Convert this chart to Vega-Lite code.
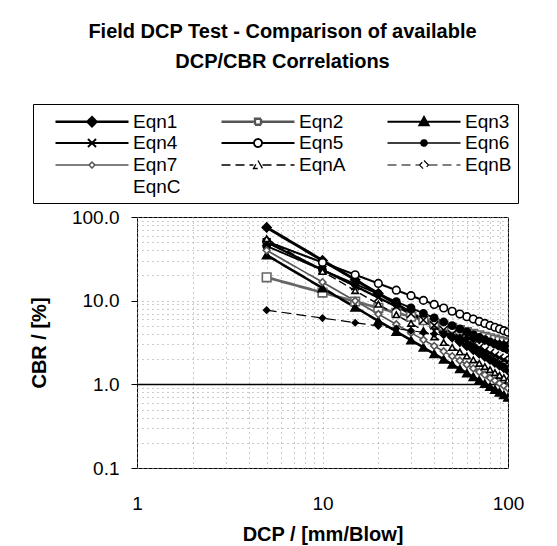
{
  "$schema": "https://vega.github.io/schema/vega-lite/v6.json",
  "width": 371,
  "height": 251,
  "autosize": {"type": "none"},
  "padding": {"left": 137, "top": 217, "right": 49, "bottom": 78},
  "background": "white",
  "config": {"font": "Liberation Sans", "view": {"stroke": "black", "strokeWidth": 1}},
  "title": {
    "text": ["Field DCP Test - Comparison of available", "DCP/CBR Correlations"],
    "fontSize": 20, "fontWeight": "bold", "font": "Liberation Sans", "color": "black",
    "anchor": "middle", "frame": "group", "dx": -40, "offset": 32, "lineHeight": 30
  },
  "datasets": {
    "pts": [
      {"s":"Eqn1","x":5,"y":75.0},{"s":"Eqn1","x":10,"y":30.25},{"s":"Eqn1","x":15,"y":17.78},{"s":"Eqn1","x":20,"y":12.2},{"s":"Eqn1","x":25,"y":9.1},{"s":"Eqn1","x":30,"y":7.17},{"s":"Eqn1","x":35,"y":5.86},{"s":"Eqn1","x":40,"y":4.92},{"s":"Eqn1","x":45,"y":4.22},{"s":"Eqn1","x":50,"y":3.67},{"s":"Eqn1","x":55,"y":3.24},{"s":"Eqn1","x":60,"y":2.89},{"s":"Eqn1","x":65,"y":2.6},{"s":"Eqn1","x":70,"y":2.36},{"s":"Eqn1","x":75,"y":2.16},{"s":"Eqn1","x":80,"y":1.98},{"s":"Eqn1","x":85,"y":1.83},{"s":"Eqn1","x":90,"y":1.7},{"s":"Eqn1","x":95,"y":1.58},{"s":"Eqn1","x":100,"y":1.48},
      {"s":"Eqn2","x":5,"y":19.0},{"s":"Eqn2","x":10,"y":12.49},{"s":"Eqn2","x":15,"y":9.77},{"s":"Eqn2","x":20,"y":8.21},{"s":"Eqn2","x":25,"y":7.17},{"s":"Eqn2","x":30,"y":6.43},{"s":"Eqn2","x":35,"y":5.85},{"s":"Eqn2","x":40,"y":5.4},{"s":"Eqn2","x":45,"y":5.03},{"s":"Eqn2","x":50,"y":4.72},{"s":"Eqn2","x":55,"y":4.45},{"s":"Eqn2","x":60,"y":4.22},{"s":"Eqn2","x":65,"y":4.02},{"s":"Eqn2","x":70,"y":3.85},{"s":"Eqn2","x":75,"y":3.69},{"s":"Eqn2","x":80,"y":3.55},{"s":"Eqn2","x":85,"y":3.42},{"s":"Eqn2","x":90,"y":3.3},{"s":"Eqn2","x":95,"y":3.2},{"s":"Eqn2","x":100,"y":3.1},
      {"s":"Eqn3","x":5,"y":35.0},{"s":"Eqn3","x":10,"y":14.16},{"s":"Eqn3","x":15,"y":8.34},{"s":"Eqn3","x":20,"y":5.73},{"s":"Eqn3","x":25,"y":4.28},{"s":"Eqn3","x":30,"y":3.37},{"s":"Eqn3","x":35,"y":2.76},{"s":"Eqn3","x":40,"y":2.32},{"s":"Eqn3","x":45,"y":1.99},{"s":"Eqn3","x":50,"y":1.73},{"s":"Eqn3","x":55,"y":1.53},{"s":"Eqn3","x":60,"y":1.36},{"s":"Eqn3","x":65,"y":1.23},{"s":"Eqn3","x":70,"y":1.12},{"s":"Eqn3","x":75,"y":1.02},{"s":"Eqn3","x":80,"y":0.937},{"s":"Eqn3","x":85,"y":0.866},{"s":"Eqn3","x":90,"y":0.803},{"s":"Eqn3","x":95,"y":0.748},{"s":"Eqn3","x":100,"y":0.7},
      {"s":"Eqn4","x":5,"y":50.0},{"s":"Eqn4","x":10,"y":23.32},{"s":"Eqn4","x":15,"y":14.93},{"s":"Eqn4","x":20,"y":10.87},{"s":"Eqn4","x":25,"y":8.51},{"s":"Eqn4","x":30,"y":6.96},{"s":"Eqn4","x":35,"y":5.87},{"s":"Eqn4","x":40,"y":5.07},{"s":"Eqn4","x":45,"y":4.46},{"s":"Eqn4","x":50,"y":3.97},{"s":"Eqn4","x":55,"y":3.57},{"s":"Eqn4","x":60,"y":3.25},{"s":"Eqn4","x":65,"y":2.97},{"s":"Eqn4","x":70,"y":2.74},{"s":"Eqn4","x":75,"y":2.54},{"s":"Eqn4","x":80,"y":2.37},{"s":"Eqn4","x":85,"y":2.21},{"s":"Eqn4","x":90,"y":2.08},{"s":"Eqn4","x":95,"y":1.96},{"s":"Eqn4","x":100,"y":1.85},
      {"s":"Eqn5","x":5,"y":51.0},{"s":"Eqn5","x":10,"y":28.62},{"s":"Eqn5","x":15,"y":20.42},{"s":"Eqn5","x":20,"y":16.06},{"s":"Eqn5","x":25,"y":13.34},{"s":"Eqn5","x":30,"y":11.46},{"s":"Eqn5","x":35,"y":10.08},{"s":"Eqn5","x":40,"y":9.02},{"s":"Eqn5","x":45,"y":8.17},{"s":"Eqn5","x":50,"y":7.48},{"s":"Eqn5","x":55,"y":6.91},{"s":"Eqn5","x":60,"y":6.43},{"s":"Eqn5","x":65,"y":6.02},{"s":"Eqn5","x":70,"y":5.65},{"s":"Eqn5","x":75,"y":5.34},{"s":"Eqn5","x":80,"y":5.06},{"s":"Eqn5","x":85,"y":4.81},{"s":"Eqn5","x":90,"y":4.59},{"s":"Eqn5","x":95,"y":4.38},{"s":"Eqn5","x":100,"y":4.2},
      {"s":"Eqn6","x":5,"y":45.0},{"s":"Eqn6","x":10,"y":23.26},{"s":"Eqn6","x":15,"y":15.82},{"s":"Eqn6","x":20,"y":12.03},{"s":"Eqn6","x":25,"y":9.73},{"s":"Eqn6","x":30,"y":8.18},{"s":"Eqn6","x":35,"y":7.06},{"s":"Eqn6","x":40,"y":6.22},{"s":"Eqn6","x":45,"y":5.56},{"s":"Eqn6","x":50,"y":5.03},{"s":"Eqn6","x":55,"y":4.59},{"s":"Eqn6","x":60,"y":4.23},{"s":"Eqn6","x":65,"y":3.92},{"s":"Eqn6","x":70,"y":3.65},{"s":"Eqn6","x":75,"y":3.42},{"s":"Eqn6","x":80,"y":3.22},{"s":"Eqn6","x":85,"y":3.03},{"s":"Eqn6","x":90,"y":2.87},{"s":"Eqn6","x":95,"y":2.73},{"s":"Eqn6","x":100,"y":2.6},
      {"s":"Eqn7","x":5,"y":40.0},{"s":"Eqn7","x":10,"y":16.63},{"s":"Eqn7","x":15,"y":9.95},{"s":"Eqn7","x":20,"y":6.91},{"s":"Eqn7","x":25,"y":5.21},{"s":"Eqn7","x":30,"y":4.14},{"s":"Eqn7","x":35,"y":3.4},{"s":"Eqn7","x":40,"y":2.87},{"s":"Eqn7","x":45,"y":2.48},{"s":"Eqn7","x":50,"y":2.17},{"s":"Eqn7","x":55,"y":1.92},{"s":"Eqn7","x":60,"y":1.72},{"s":"Eqn7","x":65,"y":1.55},{"s":"Eqn7","x":70,"y":1.41},{"s":"Eqn7","x":75,"y":1.3},{"s":"Eqn7","x":80,"y":1.19},{"s":"Eqn7","x":85,"y":1.11},{"s":"Eqn7","x":90,"y":1.03},{"s":"Eqn7","x":95,"y":0.961},{"s":"Eqn7","x":100,"y":0.9},
      {"s":"EqnA","x":5,"y":55.0},{"s":"EqnA","x":10,"y":22.34},{"s":"EqnA","x":15,"y":13.19},{"s":"EqnA","x":20,"y":9.07},{"s":"EqnA","x":25,"y":6.79},{"s":"EqnA","x":30,"y":5.36},{"s":"EqnA","x":35,"y":4.38},{"s":"EqnA","x":40,"y":3.69},{"s":"EqnA","x":45,"y":3.16},{"s":"EqnA","x":50,"y":2.76},{"s":"EqnA","x":55,"y":2.44},{"s":"EqnA","x":60,"y":2.18},{"s":"EqnA","x":65,"y":1.96},{"s":"EqnA","x":70,"y":1.78},{"s":"EqnA","x":75,"y":1.63},{"s":"EqnA","x":80,"y":1.5},{"s":"EqnA","x":85,"y":1.38},{"s":"EqnA","x":90,"y":1.28},{"s":"EqnA","x":95,"y":1.2},{"s":"EqnA","x":100,"y":1.12},
      {"s":"EqnB","x":5,"y":7.7},{"s":"EqnB","x":10,"y":6.19},{"s":"EqnB","x":15,"y":5.45},{"s":"EqnB","x":20,"y":4.98},{"s":"EqnB","x":25,"y":4.64},{"s":"EqnB","x":30,"y":4.38},{"s":"EqnB","x":35,"y":4.17},{"s":"EqnB","x":40,"y":4.0},{"s":"EqnB","x":45,"y":3.86},{"s":"EqnB","x":50,"y":3.73},{"s":"EqnB","x":55,"y":3.62},{"s":"EqnB","x":60,"y":3.52},{"s":"EqnB","x":65,"y":3.43},{"s":"EqnB","x":70,"y":3.36},{"s":"EqnB","x":75,"y":3.28},{"s":"EqnB","x":80,"y":3.22},{"s":"EqnB","x":85,"y":3.16},{"s":"EqnB","x":90,"y":3.1},{"s":"EqnB","x":95,"y":3.05},{"s":"EqnB","x":100,"y":3.0}
    ]
  },
  "data": {"name": "pts"},
  "resolve": {"scale": {"shape": "independent", "fill": "independent", "stroke": "independent", "strokeDash": "independent", "strokeWidth": "independent", "size": "independent"}},
  "layer": [
    {
      "mark": {"type": "line", "clip": true},
      "encoding": {
        "x": {
          "field": "x", "type": "quantitative",
          "scale": {"type": "log", "domain": [1, 100], "nice": false},
          "axis": {
            "values": [1,2,3,4,5,6,7,8,9,10,20,30,40,50,60,70,80,90,100],
            "format": "d",
            "labelExpr": "(datum.value==1||datum.value==10||datum.value==100)?datum.label:''",
            "title": "DCP / [mm/Blow]", "titleFontSize": 20, "titleFontWeight": "bold", "titleColor": "black", "titlePadding": 11,
            "labelFontSize": 19, "labelColor": "black", "labelPadding": 26, "labelOverlap": false, "labelFlush": false,
            "ticks": false, "domain": false,
            "grid": true, "gridDash": [1, 4], "gridColor": "#999", "gridWidth": 1
          }
        },
        "y": {
          "field": "y", "type": "quantitative",
          "scale": {"type": "log", "domain": [0.1, 100], "nice": false},
          "axis": {
            "values": [0.1,0.2,0.3,0.4,0.5,0.6,0.7,0.8,0.9,1,2,3,4,5,6,7,8,9,10,20,30,40,50,60,70,80,90,100],
            "format": ".1f",
            "labelExpr": "(datum.value==0.1||datum.value==1||datum.value==10||datum.value==100)?datum.label:''",
            "title": "CBR / [%]", "titleFontSize": 20, "titleFontWeight": "bold", "titleColor": "black", "titlePadding": 22,
            "labelFontSize": 19, "labelColor": "black", "labelPadding": 12, "labelOverlap": false, "labelFlush": false,
            "ticks": true, "tickSize": 6, "tickColor": "black",
            "tickOpacity": {"condition": {"test": "datum.value==0.1||datum.value==1||datum.value==10||datum.value==100", "value": 1}, "value": 0},
            "domain": false,
            "grid": true,
            "gridDash": {"condition": {"test": "datum.value==1", "value": [1, 0]}, "value": [1, 4]},
            "gridColor": {"condition": {"test": "datum.value==1", "value": "black"}, "value": "#999"},
            "gridWidth": {"condition": {"test": "datum.value==1", "value": 1.5}, "value": 1}
          }
        },
        "stroke": {
          "field": "s", "type": "nominal", "legend": null,
          "scale": {"range": ["black","#666","black","black","black","black","#555","black","black"]}
        },
        "strokeWidth": {
          "field": "s", "type": "nominal", "legend": null,
          "scale": {"range": [3,1.2,2.5,2.5,2.2,2,1.2,1.6,2.2]}
        },
        "strokeDash": {
          "field": "s", "type": "nominal", "legend": null,
          "scale": {"range": [[1,0],[1,0],[1,0],[1,0],[1,0],[1,0],[1,0],[8,4],[10,5]]}
        }
      }
    },
    {
      "mark": {"type": "point", "filled": true, "opacity": 1, "strokeWidth": 1.6, "clip": true},
      "encoding": {
        "x": {"field": "x", "type": "quantitative"},
        "y": {"field": "y", "type": "quantitative"},
        "stroke": {"field": "s", "type": "nominal", "legend": null,
          "scale": {"range": ["black","#666","black","black","black","black","#555","black","black"]}},
        "fill": {
          "field": "s", "type": "nominal", "legend": null,
          "scale": {"range": ["black","white","black","black","white","black","white","white","black"]}
        },
        "size": {
          "field": "s", "type": "nominal", "legend": null,
          "scale": {"range": [80,35,70,55,85,45,35,55,140]}
        },
        "shape": {
          "field": "s", "type": "nominal", "legend": null,
          "scale": {"range": ["diamond","square","triangle-up","M-1,-1L1,1M-1,1L1,-1","circle","circle","diamond","triangle-up","diamond"]}
        }
      }
    },
    {
      "mark": {"type": "point", "filled": true, "opacity": 0, "clip": true},
      "encoding": {
        "x": {"field": "x", "type": "quantitative"},
        "y": {"field": "y", "type": "quantitative"},
        "shape": {
          "field": "s", "type": "nominal",
          "scale": {"domain": ["Eqn1","Eqn2","Eqn3","Eqn4","Eqn5","Eqn6","Eqn7","EqnA","EqnB","EqnC"],
                    "range": ["M0.5,0H7.8M4.15,-0.45L4.6,0L4.15,0.45L3.7,0Z","M0.5,0H3.85M4.45,0H7.8M3.85,-0.3H4.45V0.3H3.85Z","M0.5,0H7.8M4.15,-0.45L4.6,0.35L3.7,0.35Z","M0.5,0H7.8M3.75,-0.4L4.55,0.4M3.75,0.4L4.55,-0.4","M0.5,0H3.75M4.55,0H7.8M3.75,0A0.4,0.4,0,1,0,4.55,0A0.4,0.4,0,1,0,3.75,0Z","M0.5,0H7.8M3.85,0A0.3,0.3,0,1,0,4.45,0A0.3,0.3,0,1,0,3.85,0Z","M0.5,0H3.85M4.45,0H7.8M4.15,-0.3L4.45,0L4.15,0.3L3.85,0Z","M0.5,0H3.7M4.6,0H7.8M4.15,-0.45L4.6,0.35L3.7,0.35Z","M0.5,0H3.7M4.6,0H7.8M4.15,-0.45L4.6,0L4.15,0.45L3.7,0Z","M0,0"]},
          "legend": {
            "orient": "none", "legendX": -104, "legendY": -113,
            "direction": "horizontal", "columns": 3, "title": null, "gridAlign": "all",
            "strokeColor": "black", "padding": 6, "fillColor": "white",
            "symbolSize": 400, "symbolOpacity": 1, "rowPadding": 0, "columnPadding": 24,
            "labelFontSize": 19, "labelFont": "Liberation Sans", "labelColor": "black", "labelOffset": 71, "labelLimit": 200
          }
        },
        "fill": {
          "field": "s", "type": "nominal",
          "scale": {"domain": ["Eqn1","Eqn2","Eqn3","Eqn4","Eqn5","Eqn6","Eqn7","EqnA","EqnB","EqnC"],
                    "range": ["black","white","black","black","white","black","white","white","white","white"]}
        },
        "stroke": {
          "field": "s", "type": "nominal",
          "scale": {"domain": ["Eqn1","Eqn2","Eqn3","Eqn4","Eqn5","Eqn6","Eqn7","EqnA","EqnB","EqnC"],
                    "range": ["black","#555","black","black","black","black","#555","black","black","white"]}
        },
        "strokeWidth": {
          "field": "s", "type": "nominal",
          "scale": {"domain": ["Eqn1","Eqn2","Eqn3","Eqn4","Eqn5","Eqn6","Eqn7","EqnA","EqnB","EqnC"],
                    "range": [2.5,1,2,2,2,1.5,1,1.5,1.8,0.5]}
        },
        "strokeDash": {
          "field": "s", "type": "nominal",
          "scale": {"domain": ["Eqn1","Eqn2","Eqn3","Eqn4","Eqn5","Eqn6","Eqn7","EqnA","EqnB","EqnC"],
                    "range": [[1,0],[1,0],[1,0],[1,0],[1,0],[1,0],[1,0],[9,5],[9,5],[1,0]]}
        }
      }
    }
  ]
}
